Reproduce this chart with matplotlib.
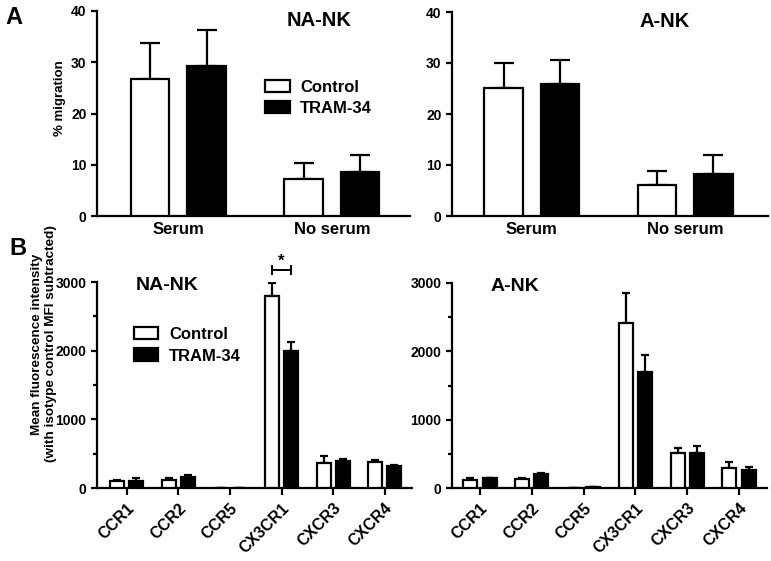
import numpy as np
import matplotlib
matplotlib.use('Agg')
import matplotlib.pyplot as plt
from matplotlib.patches import Patch
from matplotlib.ticker import MultipleLocator

plt.rcParams['font.family'] = ['Liberation Sans', 'DejaVu Sans']
plt.rcParams['font.weight'] = 'bold'

# panel A: % migration
conds = ['Serum', 'No serum']
na_ctrl = [26.7, 7.2]
na_ctrl_err = [7.1, 3.1]
na_tram = [29.2, 8.5]
na_tram_err = [7.1, 3.4]
a_ctrl = [25.1, 6.0]
a_ctrl_err = [4.9, 2.9]
a_tram = [25.8, 8.2]
a_tram_err = [4.8, 3.7]

# panel B: MFI
receptors = ['CCR1', 'CCR2', 'CCR5', 'CX3CR1', 'CXCR3', 'CXCR4']
na_mfi_ctrl = [95, 110, 0, 2800, 370, 380]
na_mfi_ctrl_err = [20, 30, 0, 180, 95, 25]
na_mfi_tram = [100, 165, 5, 2000, 400, 320]
na_mfi_tram_err = [50, 30, 0, 120, 20, 15]
a_mfi_ctrl = [110, 130, 5, 2420, 510, 300]
a_mfi_ctrl_err = [30, 10, 0, 440, 70, 80]
a_mfi_tram = [140, 210, 10, 1700, 510, 270]
a_mfi_tram_err = [10, 15, 0, 250, 100, 35]

fig = plt.figure(figsize=(7.71, 5.61), dpi=100)
W, H = 771.0, 561.0

def box(x0, x1, ytop, ybot):
    return [x0 / W, 1 - ybot / H, (x1 - x0) / W, (ybot - ytop) / H]

axA1 = fig.add_axes(box(97, 410, 11, 216))
axA2 = fig.add_axes(box(452, 768, 12, 216))
axB1 = fig.add_axes(box(97, 412, 282, 488))
axB2 = fig.add_axes(box(452, 767, 283, 488))

def style(ax):
    for s in ['top', 'right']:
        ax.spines[s].set_visible(False)
    for s in ['left', 'bottom']:
        ax.spines[s].set_linewidth(1.6)
    ax.tick_params(width=1.6, length=4, labelsize=10)

def bars(ax, ctrl, cerr, tram, terr, off, w, cap):
    x = np.arange(len(ctrl))
    ax.bar(x - off, ctrl, w, color='white', edgecolor='black', linewidth=1.6, zorder=3)
    ax.bar(x + off, tram, w, color='black', edgecolor='black', linewidth=1.6, zorder=3)
    ax.errorbar(x - off, ctrl, yerr=[np.zeros(len(ctrl)), cerr], fmt='none',
                ecolor='black', elinewidth=1.6, capsize=cap, capthick=1.6, zorder=2)
    ax.errorbar(x + off, tram, yerr=[np.zeros(len(tram)), terr], fmt='none',
                ecolor='black', elinewidth=1.6, capsize=cap, capthick=1.6, zorder=2)

# panel A
for ax, c, ce, t, te, title, tx in [
        (axA1, na_ctrl, na_ctrl_err, na_tram, na_tram_err, 'NA-NK', 0.709),
        (axA2, a_ctrl, a_ctrl_err, a_tram, a_tram_err, 'A-NK', 0.674)]:
    style(ax)
    bars(ax, c, ce, t, te, 0.184, 0.25, 7)
    ax.set_ylim(0, 40)
    ax.set_yticks([0, 10, 20, 30, 40])
    ax.set_xticks(range(len(conds)))
    ax.set_xticklabels(conds, fontsize=12)
    ax.tick_params(axis='x', length=0, pad=4)
    ax.text(tx, 0.955, title, transform=ax.transAxes, ha='center', va='center',
            fontsize=14.5, fontweight='bold')
axA1.set_xlim(-0.53, 1.51)
axA2.set_xlim(-0.52, 1.54)

handles = [Patch(facecolor='white', edgecolor='black', linewidth=1.6),
           Patch(facecolor='black', edgecolor='black', linewidth=1.6)]
axA1.legend(handles, ['Control', 'TRAM-34'], loc='center left',
            bbox_to_anchor=(0.49, 0.577), frameon=False, fontsize=12,
            handlelength=1.45, handleheight=0.8, handletextpad=0.65, labelspacing=0.35)

# panel B
for ax, c, ce, t, te, title, tx in [
        (axB1, na_mfi_ctrl, na_mfi_ctrl_err, na_mfi_tram, na_mfi_tram_err, 'NA-NK', 0.222),
        (axB2, a_mfi_ctrl, a_mfi_ctrl_err, a_mfi_tram, a_mfi_tram_err, 'A-NK', 0.2)]:
    style(ax)
    bars(ax, c, ce, t, te, 0.184, 0.27, 3)
    ax.set_ylim(0, 3000)
    ax.yaxis.set_major_locator(MultipleLocator(1000))
    ax.yaxis.set_minor_locator(MultipleLocator(500))
    ax.tick_params(axis='y', which='minor', width=1.6, length=3)
    ax.set_xticks(range(len(receptors)))
    ax.set_xticklabels(receptors, rotation=45, ha='right', rotation_mode='anchor', fontsize=11.5)
    ax.tick_params(axis='x', length=5, pad=4)
    ax.text(tx, 0.985, title, transform=ax.transAxes, ha='center', va='center',
            fontsize=14, fontweight='bold')
axB1.set_xlim(-0.58, 5.53)
axB2.set_xlim(-0.54, 5.54)

axB1.legend(handles, ['Control', 'TRAM-34'], loc='center left',
            bbox_to_anchor=(0.07, 0.694), frameon=False, fontsize=12,
            handlelength=1.45, handleheight=0.8, handletextpad=0.65, labelspacing=0.4)

# significance bracket on CX3CR1
by = 3180
axB1.plot([3 - 0.184, 3 + 0.184], [by, by], color='black', lw=1.4, clip_on=False)
axB1.plot([3 - 0.184, 3 - 0.184], [by - 60, by + 60], color='black', lw=1.4, clip_on=False)
axB1.plot([3 + 0.184, 3 + 0.184], [by - 60, by + 60], color='black', lw=1.4, clip_on=False)
axB1.text(3, by + 10, '*', ha='center', va='bottom', fontsize=12, fontweight='bold')

# axis labels and panel letters
fig.text(60 / W, 1 - 98 / H, '% migration', rotation=90, ha='center', va='center',
         fontsize=9.5, fontweight='bold')
fig.text(44 / W, 1 - 344 / H, 'Mean fluorescence intensity\n(with isotype control MFI subtracted)',
         rotation=90, ha='center', va='center', fontsize=9.7, fontweight='bold',
         multialignment='center', linespacing=1.3)
fig.text(14 / W, 1 - 17 / H, 'A', ha='center', va='center', fontsize=17, fontweight='bold')
fig.text(18 / W, 1 - 248 / H, 'B', ha='center', va='center', fontsize=17, fontweight='bold')

fig.savefig('out.png', dpi=100)
